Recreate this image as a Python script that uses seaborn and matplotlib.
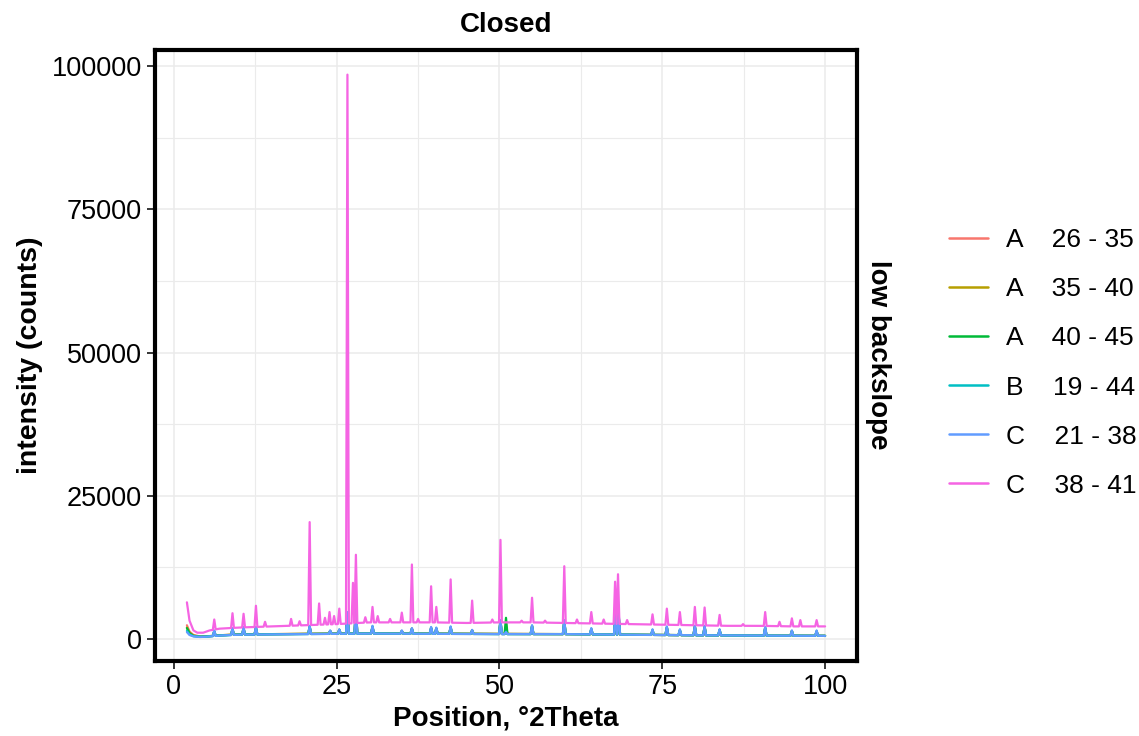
import numpy as np
import pandas as pd
import matplotlib
matplotlib.use("Agg")
import matplotlib.pyplot as plt
import seaborn as sns

# ---- series labels -------------------------------------------------------
groups = ["A", "A", "A", "B", "C", "C"]
depths = ["26 - 35", "35 - 40", "40 - 45", "19 - 44", "21 - 38", "38 - 41"]
palette = ["#F8766D", "#B79F00", "#00BA38", "#00BFC4", "#619CFF", "#F564E3"]

# ---- background levels (counts) at selected 2theta positions --------------
base_x = [2.0, 2.4, 3.0, 4.0, 5.0, 7.0, 10, 20, 30, 40, 50, 60, 70, 80, 90, 100]
base_a1 = [2400, 1300, 700, 450, 450, 650, 800, 900, 1000, 950, 900, 850, 750, 650, 600, 550]
base_a2 = [2000, 1100, 600, 400, 450, 650, 800, 900, 980, 930, 880, 850, 750, 650, 600, 550]
base_a3 = [1900, 1000, 550, 400, 450, 620, 780, 880, 970, 920, 870, 860, 760, 660, 600, 560]
base_b = [1400, 800, 500, 380, 420, 600, 760, 860, 950, 900, 860, 840, 740, 640, 590, 540]
base_c1 = [1200, 700, 450, 350, 400, 600, 750, 850, 950, 900, 850, 850, 750, 650, 600, 550]

# ---- reflections of the lower-intensity samples (position, peak counts) ---
low_pos = [6.2, 9.0, 10.7, 12.6, 20.85, 24.0, 25.4, 26.65, 27.95, 30.5, 35.0,
           36.55, 39.5, 40.3, 42.5, 45.8, 50.15, 51.0, 55.0, 59.95, 64.1,
           67.8, 68.3, 73.5, 75.7, 77.7, 80.0, 81.5, 83.8, 90.8, 94.9, 98.7]
peaks_a1 = [1300, 1700, 1800, 1900, 2100, 1400, 1600, 4300, 5000, 2100, 1400,
            1800, 1900, 1800, 2000, 1500, 3000, 1400, 2200, 3000, 1700,
            3800, 3900, 1500, 2000, 1500, 2100, 2100, 1500, 1900, 1400, 1300]
peaks_a2 = [1300, 1700, 1800, 1900, 2100, 1400, 1600, 4400, 5100, 2100, 1400,
            1800, 1900, 1800, 2000, 1500, 3100, 2500, 2200, 3100, 1700,
            3900, 4000, 1500, 2000, 1500, 2200, 2100, 1500, 1900, 1400, 1300]
peaks_a3 = [1300, 1700, 1800, 1900, 2100, 1400, 1600, 4500, 5200, 2100, 1400,
            1800, 1900, 1800, 2000, 1500, 3100, 3700, 2300, 3100, 1700,
            4000, 4100, 1500, 2000, 1500, 2200, 2100, 1600, 1900, 1400, 1300]
peaks_b = [1400, 1800, 1900, 2000, 2200, 1400, 1600, 4500, 5400, 2200, 1400,
           1800, 2000, 1900, 2100, 1500, 3200, 1300, 2300, 3200, 1800,
           4200, 4300, 1600, 2100, 1600, 2200, 2200, 1600, 2000, 1400, 1400]
peaks_c1 = [1500, 1900, 2100, 2100, 2300, 1500, 1700, 4700, 5600, 2300, 1500,
            1900, 2100, 2000, 2200, 1600, 3300, 1200, 2400, 3300, 1900,
            4400, 4500, 1700, 2200, 1700, 2300, 2300, 1700, 2100, 1500, 1500]

# ---- C 38 - 41: background and reflections --------------------------------
c2_base_x = [2.0, 2.4, 3.0, 3.6, 4.5, 5.5, 7.0, 10, 15, 20, 25, 30, 35, 40,
             45, 50, 55, 60, 65, 70, 75, 80, 85, 90, 95, 100]
c2_base_y = [6400, 3200, 1500, 1100, 1100, 1500, 1800, 2000, 2200, 2400, 2600,
             2900, 2900, 2900, 2800, 2900, 2900, 2800, 2700, 2600, 2500, 2400,
             2300, 2300, 2200, 2200]
c2_pos = [6.2, 9.0, 10.7, 12.6, 14.0, 18.0, 19.3, 20.85, 22.3, 23.2, 23.9,
          24.6, 25.4, 26.65, 27.5, 27.95, 29.4, 30.5, 31.3, 33.2, 35.0, 36.55,
          37.5, 39.5, 40.3, 42.5, 45.8, 48.9, 50.15, 53.4, 55.0, 57.0, 59.95,
          61.9, 64.1, 66.0, 67.75, 68.2, 69.6, 73.5, 75.7, 77.7, 80.0, 81.5,
          83.8, 87.4, 90.8, 93.0, 94.9, 96.2, 98.7]
c2_peaks = [3400, 4500, 4400, 5800, 3000, 3500, 3100, 20400, 6200, 3700, 4700,
            4000, 5300, 98500, 9800, 14700, 3800, 5600, 4000, 3500, 4600, 13000,
            3500, 9200, 5600, 10400, 6700, 3400, 17300, 3200, 7200, 3200, 12700,
            3400, 4700, 3400, 10000, 11300, 3300, 4300, 5300, 4700, 5600, 5500,
            4200, 2600, 4700, 3000, 3600, 3300, 3300]


def pattern(bx, by, pos, peak, hw=0.22):
    """Polyline through the background levels with a spike at each reflection."""
    bx = np.asarray(bx, float)
    by = np.asarray(by, float)
    pos = np.asarray(pos, float)
    peak = np.asarray(peak, float)
    xs = np.concatenate([bx, pos - hw, pos, pos + hw])
    xs = np.unique(xs[(xs >= bx.min()) & (xs <= bx.max())])
    ys = np.interp(xs, bx, by)
    for p, h in zip(pos, peak):
        tri = ys + (h - np.interp(p, bx, by)) * np.clip(1 - np.abs(xs - p) / hw, 0, None)
        ys = np.maximum(ys, tri)
    return xs, ys


series = [
    (base_x, base_a1, low_pos, peaks_a1),
    (base_x, base_a2, low_pos, peaks_a2),
    (base_x, base_a3, low_pos, peaks_a3),
    (base_x, base_b, low_pos, peaks_b),
    (base_x, base_c1, low_pos, peaks_c1),
    (c2_base_x, c2_base_y, c2_pos, c2_peaks),
]
labels = [f"{g}    {d}" for g, d in zip(groups, depths)]

frames = []
for lab, (bx, by, pos, pk) in zip(labels, series):
    x, y = pattern(bx, by, pos, pk)
    frames.append(pd.DataFrame({"position": x, "intensity": y, "sample": lab}))
df = pd.concat(frames, ignore_index=True)

# ---- figure --------------------------------------------------------------
sns.set_theme(style="white")
plt.rcParams["font.family"] = ["Liberation Sans", "DejaVu Sans"]
plt.rcParams["text.color"] = "black"
plt.rcParams["axes.labelcolor"] = "black"

W, H = 1139, 736
fig = plt.figure(figsize=(W / 100, H / 100), dpi=100)
ax = fig.add_axes([155 / W, 1 - 661 / H, (857 - 155) / W, (661 - 50) / H])

sns.lineplot(data=df, x="position", y="intensity", hue="sample",
             hue_order=labels, palette=palette, estimator=None, sort=True,
             linewidth=1.6, ax=ax)

ax.set_xlim(-2.9, 104.9)
ax.set_ylim(-3840, 102800)

ax.set_xticks([0, 25, 50, 75, 100])
ax.set_xticks([12.5, 37.5, 62.5, 87.5], minor=True)
ax.set_yticks([0, 25000, 50000, 75000, 100000])
ax.set_yticks([12500, 37500, 62500, 87500], minor=True)
ax.set_yticklabels(["0", "25000", "50000", "75000", "100000"])
ax.set_xticklabels(["0", "25", "50", "75", "100"])

ax.grid(which="major", color="#EBEBEB", linewidth=1.1)
ax.grid(which="minor", color="#EBEBEB", linewidth=0.8)
ax.set_axisbelow(True)

ax.tick_params(which="major", length=6, width=1.1, color="black",
               labelsize=19.5, labelcolor="black", pad=3.5, direction="out",
               bottom=True, left=True)
ax.tick_params(which="minor", length=0)
for s in ax.spines.values():
    s.set_color("black")
    s.set_linewidth(3)

ax.set_xlabel("Position, °2Theta", fontsize=20, fontweight="bold")
ax.set_ylabel("intensity (counts)", fontsize=20.5, fontweight="bold")
ax.xaxis.set_label_coords(0.5, (661 - 705) / (661 - 50))
ax.yaxis.set_label_coords((43 - 155) / (857 - 155), 0.5)

# facet strips
fig.text(506 / W, 1 - 25 / H, "Closed", ha="center", va="center",
         fontsize=20, fontweight="bold")
fig.text(878 / W, 1 - 355 / H, "low backslope", ha="center", va="center",
         rotation=270, fontsize=20, fontweight="bold")

handles, labs = ax.get_legend_handles_labels()
ax.get_legend().remove()
leg = fig.legend(handles, labs, loc="center left",
                 bbox_to_anchor=(925 / W, 1 - 363 / H), frameon=False,
                 fontsize=19, handlelength=1.5, handletextpad=0.67,
                 labelspacing=0.95)
for line in leg.get_lines():
    line.set_linewidth(1.8)

fig.savefig("out.png", dpi=100, facecolor="white")
